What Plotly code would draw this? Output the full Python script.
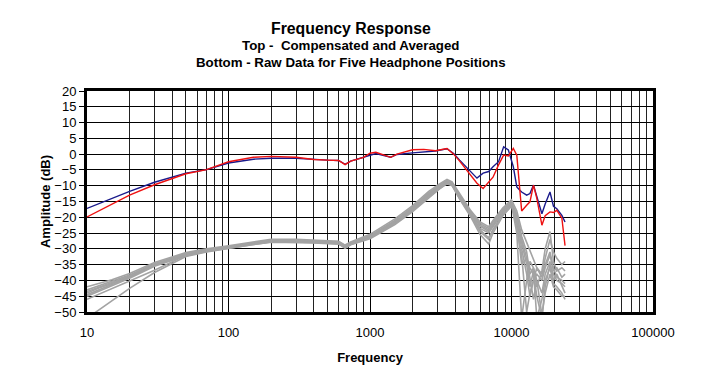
import plotly.graph_objects as go

# ---------------- data ----------------
comp_freq = [10, 20, 30, 50, 70, 100, 150, 200, 300, 400, 500, 600, 667, 730, 900,
             1000, 1100, 1400, 1550, 2000, 2400, 2900, 3500, 3900, 4300, 5100, 5700,
             6300, 6900, 7400, 8100, 8800, 9500, 10300, 10900, 11500, 11800, 12800,
             13500, 14300, 15100, 16400, 17300, 18700, 19800, 20900, 22700, 23900]

comp_blue = [-17.2, -11.8, -8.9, -6.0, -4.9, -2.8, -1.6, -1.3, -1.3, -1.7, -1.9, -2.0, -3.2, -2.2, -1.0,
             -0.3, 0.2, -1.0, -0.1, 0.4, 0.8, 1.0, 1.7, 0.2, -1.9, -5.5, -7.6,
             -6.0, -5.5, -4.0, -2.4, 2.3, 1.3, -4.0, -10.4, -11.5, -12.0, -13.0,
             -12.5, -9.8, -13.7, -18.9, -15.8, -12.0, -16.5, -17.3, -19.4, -21.5]

comp_red = [-19.9, -13.0, -9.7, -6.2, -4.9, -2.4, -1.0, -0.7, -1.0, -1.7, -1.9, -2.0, -3.3, -2.2, -1.0,
            0.3, 0.6, -1.0, 0.0, 1.4, 1.5, 1.1, 1.8, 0.0, -2.2, -6.5, -9.2,
            -10.9, -9.0, -7.3, -3.4, -0.3, -0.6, 1.8, -0.3, -12.0, -18.0, -16.2,
            -15.1, -9.8, -14.0, -22.5, -19.5, -18.3, -18.5, -17.8, -20.3, -29.0]

raw_freq = [10, 12, 15, 20, 30, 50, 70, 100, 150, 200, 300, 400, 600, 667, 730,
            1000, 1500, 2000, 2600, 3100, 3500, 3800, 4300, 5100, 6000, 6900, 7400,
            8700, 10000, 10900, 11800, 12800, 13500, 14300, 15100, 16400, 17300,
            18700, 19800, 20900, 22700, 23900]

raw_1 = [-42.0, -41.0, -39.8, -37.8, -34.3, -31.2, -30.0, -29.0, -27.8, -27.0, -27.0, -27.2, -27.6, -28.8, -27.8,
         -25.4, -20.5, -16.3, -11.8, -9.4, -8.0, -8.8, -12.6, -17.6, -21.5, -23.0, -21.0,
         -17.0, -14.5, -18.0, -24.0, -28.0, -30.0, -33.0, -36.0, -38.0, -33.0,
         -27.0, -31.0, -33.0, -35.0, -34.0]
raw_2 = [-43.0, -41.8, -40.3, -38.3, -34.7, -31.5, -30.3, -29.2, -28.0, -27.3, -27.2, -27.4, -27.8, -29.0, -28.0,
         -25.8, -21.0, -16.8, -12.3, -9.8, -8.3, -9.0, -13.0, -18.0, -22.0, -23.5, -21.5,
         -17.5, -15.0, -20.0, -30.0, -38.0, -45.0, -40.0, -38.0, -40.0, -36.0,
         -32.0, -37.0, -36.0, -39.0, -38.0]
raw_3 = [-44.0, -42.5, -41.0, -38.8, -35.0, -31.8, -30.5, -29.4, -28.2, -27.5, -27.4, -27.6, -28.0, -29.2, -28.2,
         -26.2, -21.5, -17.3, -12.8, -10.2, -8.6, -9.3, -13.4, -18.5, -22.8, -24.5, -22.5,
         -18.2, -15.5, -22.0, -35.0, -33.0, -36.0, -38.0, -45.0, -52.0, -42.0,
         -35.0, -38.0, -40.0, -41.0, -42.0]
raw_4 = [-44.5, -43.0, -41.3, -39.0, -35.3, -32.0, -30.7, -29.6, -28.4, -27.7, -27.6, -27.8, -28.2, -29.5, -28.5,
         -26.5, -22.0, -17.8, -13.3, -10.6, -9.0, -9.6, -13.8, -19.0, -24.0, -26.5, -24.0,
         -19.0, -16.0, -25.0, -52.0, -40.0, -34.0, -36.0, -40.0, -44.0, -38.0,
         -34.0, -40.0, -38.0, -42.0, -44.0]
raw_5 = [-45.0, -43.5, -41.8, -39.3, -35.5, -32.2, -30.8, -29.7, -28.5, -27.8, -27.8, -28.0, -28.4, -29.8, -28.7,
         -26.8, -22.3, -18.2, -13.7, -11.0, -9.4, -10.0, -14.2, -19.5, -25.5, -28.5, -25.0,
         -19.5, -16.5, -21.0, -28.0, -35.0, -42.0, -37.0, -52.0, -46.0, -40.0,
         -36.0, -41.0, -42.0, -44.0, -46.0]
raw_6 = [-43.5, -42.2, -40.8, -38.6, -34.9, -31.6, -30.4, -29.3, -28.1, -27.4, -27.3, -27.5, -27.9, -29.1, -28.1,
         -26.0, -21.2, -17.0, -12.5, -10.0, -8.5, -9.2, -13.2, -18.2, -22.5, -24.0, -22.0,
         -17.8, -15.2, -19.0, -26.0, -31.0, -38.0, -36.0, -42.0, -37.0, -30.0,
         -24.5, -34.0, -37.0, -36.0, -37.0]
raw_7 = [-46.0, -44.5, -42.6, -40.2, -36.8, -32.0, -30.6, -29.5, -28.3, -27.6, -27.5, -27.7, -28.1, -29.3, -28.3,
         -26.3, -21.7, -17.5, -13.0, -10.4, -8.8, -9.5, -13.6, -18.8, -23.5, -25.0, -23.0,
         -18.5, -15.8, -23.0, -32.0, -50.0, -44.0, -40.0, -36.0, -39.0, -35.0,
         -31.0, -36.0, -39.0, -40.0, -41.0]
raw_8 = [-52.0, -49.5, -46.5, -42.5, -37.5, -32.4, -31.0, -29.8, -28.6, -27.9, -27.9, -28.1, -28.5, -29.6, -28.6,
         -26.6, -22.0, -18.0, -13.5, -10.8, -9.2, -9.8, -14.0, -19.2, -24.5, -27.0, -24.0,
         -19.2, -16.2, -20.0, -27.0, -33.0, -39.0, -46.0, -40.0, -51.0, -44.0,
         -38.0, -42.0, -43.0, -45.0, -45.0]

raw_series = [raw_1, raw_2, raw_3, raw_4, raw_5, raw_6, raw_7, raw_8]

x_tick_vals = [10, 100, 1000, 10000, 100000]
x_tick_text = ["10", "100", "1000", "10000", "100000"]

# ---------------- figure ----------------
fig = go.Figure()
for s in raw_series:
    fig.add_trace(go.Scatter(x=raw_freq, y=s, mode="lines",
                             line=dict(color="#a3a3a3", width=1.6), hoverinfo="skip"))
fig.add_trace(go.Scatter(x=comp_freq, y=comp_blue, mode="lines",
                         line=dict(color="#1a1a8c", width=1.4)))
fig.add_trace(go.Scatter(x=comp_freq, y=comp_red, mode="lines",
                         line=dict(color="#ee1111", width=1.4)))

minor_vals = [m * d for d in (10, 100, 1000, 10000) for m in range(2, 10)]

font_family = "Liberation Sans, Arial, sans-serif"

fig.update_layout(
    width=713, height=370,
    margin=dict(l=79, r=68, t=83, b=66),
    paper_bgcolor="white", plot_bgcolor="white",
    showlegend=False,
    font=dict(family=font_family, color="black", size=13),
    xaxis=dict(
        type="log", range=[1, 5],
        tickvals=x_tick_vals, ticktext=x_tick_text,
        ticks="", showgrid=True, gridcolor="black", gridwidth=1,
        minor=dict(tickvals=minor_vals, showgrid=True, gridcolor="#222222", gridwidth=1, ticks=""),
        showline=True, linecolor="black", linewidth=3, mirror=True,
        tickfont=dict(size=13), ticklabelstandoff=6,
        title=dict(text="<b>Frequency</b>", font=dict(size=13), standoff=15),
        zeroline=False,
    ),
    yaxis=dict(
        range=[-50, 20], dtick=5, tick0=0,
        ticks="outside", ticklen=5, tickcolor="black", tickwidth=1,
        showgrid=True, gridcolor="black", gridwidth=1,
        showline=True, linecolor="black", linewidth=3, mirror=True,
        tickfont=dict(size=13),
        title=dict(text="<b>Amplitude (dB)</b>", font=dict(size=13), standoff=1),
        zeroline=False,
    ),
    annotations=[
        dict(text="<b>Frequency Response</b>", xref="paper", yref="paper",
             x=0.466, y=1.285, yanchor="middle", showarrow=False, font=dict(size=15.8)),
        dict(text="<b>Top -  Compensated and Averaged</b>", xref="paper", yref="paper",
             x=0.466, y=1.204, yanchor="middle", showarrow=False, font=dict(size=13.3)),
        dict(text="<b>Bottom - Raw Data for Five Headphone Positions</b>", xref="paper", yref="paper",
             x=0.466, y=1.127, yanchor="middle", showarrow=False, font=dict(size=13.3)),
    ],
)

fig.write_html("out.html")
